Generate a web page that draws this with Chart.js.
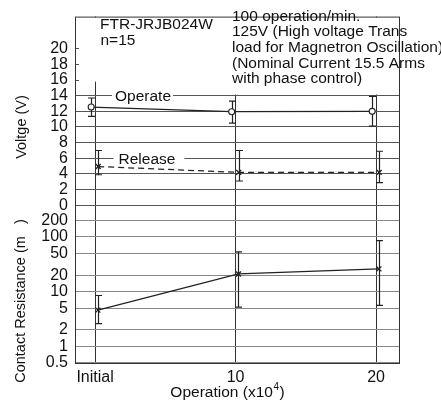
<!DOCTYPE html>
<html lang="en">
<head>
<meta charset="UTF-8">
<title>FTR-JRJB024W Life Test</title>
<script src="https://cdn.jsdelivr.net/npm/chart.js@4.4.3/dist/chart.umd.min.js"></script>
<style>
  html, body { margin: 0; padding: 0; background: #fff; }
</style>
</head>
<body>
<canvas id="lifeChart" width="441" height="409"></canvas>
<script>
// Operations (x10^4)
const operations = [0, 10, 20];
const xTickLabels = ['Initial', '10', '20'];

// Operate voltage (V)
const operateMean = [12.55, 11.95, 12.0];
const operateMax = [13.7, 13.3, 13.9];
const operateMin = [11.35, 10.5, 10.1];

// Release voltage (V)
const releaseMean = [4.95, 4.2, 4.2];
const releaseMax = [7.0, 7.0, 6.9];
const releaseMin = [3.9, 3.1, 2.9];

// Contact resistance (mOhm)
const resistMean = [4.6, 21, 26];
const resistMax = [8.5, 53, 85];
const resistMin = [2.6, 5.2, 5.6];

const voltTicks = [0, 2, 4, 6, 8, 10, 12, 14, 16, 18, 20];
const resistTicks = [0.5, 1, 2, 5, 10, 20, 50, 100, 200];

const headerLeft = ['FTR-JRJB024W', 'n=15'];
const headerRight = [
  '100 operation/min.',
  '125V (High voltage Trans',
  'load for Magnetron Oscillation)',
  '(Nominal Current 15.5 Arms',
  'with phase control)'
];

const FAMILY = '"Liberation Sans", Arial, Helvetica, sans-serif';
const INK = '#111';

// small sideways offsets so the markers of each series don't overlap
const shiftOperate = -0.28;
const shiftRelease = 0.22;
const shiftResist = 0.2;

function points(mean, shift) {
  return operations.map((x, i) => ({ x: x + shift, y: mean[i] }));
}

const frameAndBars = {
  id: 'frameAndBars',
  beforeDatasetsDraw(chart) {
    const { ctx, chartArea: a, scales } = chart;
    const yV = scales.yV;
    ctx.save();
    // blank panels behind the header notes
    ctx.fillStyle = '#fff';
    const leftBottom = yV.getPixelForValue(15.8);
    const rightBottom = yV.getPixelForValue(14.15);
    ctx.fillRect(a.left + 4, a.top + 1, 228 - a.left - 4, leftBottom - a.top - 1);
    ctx.fillRect(228, a.top + 1, a.right - 229, rightBottom - a.top - 1);

    // plot frame
    ctx.strokeStyle = '#333';
    ctx.lineWidth = 1;
    ctx.strokeRect(a.left + 0.5, a.top + 0.5, a.right - a.left - 1, a.bottom - a.top);

    // error bars
    ctx.strokeStyle = '#222';
    ctx.lineWidth = 1.2;
    chart.data.datasets.forEach(ds => {
      const ys = scales[ds.yAxisID];
      ds.data.forEach((pt, i) => {
        const px = Math.round(scales.x.getPixelForValue(pt.x)) + 0.5;
        const top = ys.getPixelForValue(ds.errMax[i]);
        const bot = ys.getPixelForValue(ds.errMin[i]);
        ctx.beginPath();
        ctx.moveTo(px, top); ctx.lineTo(px, bot);
        ctx.moveTo(px - 3.5, top); ctx.lineTo(px + 3.5, top);
        ctx.moveTo(px - 3.5, bot); ctx.lineTo(px + 3.5, bot);
        ctx.stroke();
      });
    });
    ctx.restore();
  },
  afterDraw(chart) {
    const { ctx, scales } = chart;
    const yV = scales.yV;
    ctx.save();
    ctx.fillStyle = INK;
    ctx.textBaseline = 'alphabetic';
    ctx.textAlign = 'left';
    ctx.font = '15.5px ' + FAMILY;

    // header notes
    ctx.fillText(headerLeft[0], 100, 28.5);
    ctx.fillText(headerLeft[1], 100.5, 45);
    const rightBase = [20.5, 36.3, 52, 67.5, 82.5];
    headerRight.forEach((t, i) => ctx.fillText(t, 232, rightBase[i]));

    // series labels sitting on the grid lines
    const labels = [
      { text: 'Operate', v: 14, x: 115, pad: [3, 2] },
      { text: 'Release', v: 6, x: 118.5, pad: [5, 9] }
    ];
    labels.forEach(l => {
      const y = yV.getPixelForValue(l.v);
      const w = ctx.measureText(l.text).width;
      ctx.fillStyle = '#fff';
      ctx.fillRect(l.x - l.pad[0], y - 7, w + l.pad[0] + l.pad[1], 14);
      ctx.fillStyle = INK;
      ctx.fillText(l.text, l.x, y + 5.2);
    });

    // x axis title with superscript
    const xTitle = 'Operation (x10';
    const base = 397;
    ctx.font = '15.5px ' + FAMILY;
    const w1 = ctx.measureText(xTitle).width;
    ctx.font = '10px ' + FAMILY;
    const w2 = ctx.measureText('4').width;
    ctx.font = '15.5px ' + FAMILY;
    const w3 = ctx.measureText(')').width;
    let x0 = 227 - (w1 + w2 + w3) / 2;
    ctx.fillText(xTitle, x0, base);
    ctx.font = '10px ' + FAMILY;
    ctx.fillText('4', x0 + w1 + 0.5, base - 7);
    ctx.font = '15.5px ' + FAMILY;
    ctx.fillText(')', x0 + w1 + w2 + 1, base);

    // rotated y titles
    ctx.font = '14.5px ' + FAMILY;
    ctx.textAlign = 'center';
    ctx.textBaseline = 'middle';
    [['Voltge (V)', 22, 127], ['Contact Resistance (m   )', 21, 301]].forEach(([t, x, y]) => {
      ctx.save();
      ctx.translate(x, y);
      ctx.rotate(-Math.PI / 2);
      ctx.fillText(t, 0, 0);
      ctx.restore();
    });
    ctx.restore();
  }
};

const tickFont = { family: FAMILY, size: 16 };

new Chart(document.getElementById('lifeChart'), {
  type: 'line',
  data: {
    datasets: [
      {
        label: 'Operate',
        data: points(operateMean, shiftOperate),
        errMax: operateMax,
        errMin: operateMin,
        yAxisID: 'yV',
        borderColor: '#222',
        borderWidth: 1.3,
        pointStyle: 'circle',
        pointRadius: 3,
        pointBorderWidth: 1.1,
        pointBackgroundColor: '#fff',
        pointBorderColor: '#222'
      },
      {
        label: 'Release',
        data: points(releaseMean, shiftRelease),
        errMax: releaseMax,
        errMin: releaseMin,
        yAxisID: 'yV',
        borderColor: '#222',
        borderWidth: 1.3,
        borderDash: [6, 4],
        pointStyle: 'crossRot',
        pointRadius: 3.5,
        pointBorderWidth: 1.3,
        pointBorderColor: '#222'
      },
      {
        label: 'Contact Resistance',
        data: points(resistMean, shiftResist),
        errMax: resistMax,
        errMin: resistMin,
        yAxisID: 'yR',
        borderColor: '#222',
        borderWidth: 1.3,
        pointStyle: 'crossRot',
        pointRadius: 3.5,
        pointBorderWidth: 1.3,
        pointBorderColor: '#222'
      }
    ]
  },
  options: {
    responsive: false,
    animation: false,
    events: [],
    layout: { padding: { top: 5, right: 41, bottom: 0, left: 0 } },
    plugins: { legend: { display: false }, tooltip: { enabled: false } },
    scales: {
      x: {
        type: 'linear',
        min: -1.43,
        max: 21.7,
        afterBuildTicks: s => { s.ticks = operations.map(v => ({ value: v })); },
        afterFit: s => { s.height = 46; },
        grid: { color: '#333', lineWidth: 1, drawTicks: false },
        border: { display: false },
        ticks: {
          callback: v => xTickLabels[operations.indexOf(v)],
          font: tickFont,
          color: INK,
          padding: 5,
          maxRotation: 0,
          autoSkip: false
        }
      },
      yR: {
        type: 'logarithmic',
        position: 'left',
        stack: 'left',
        stackWeight: 163,
        weight: 1,
        min: 0.5,
        max: 375,
        afterBuildTicks: s => { s.ticks = resistTicks.map(v => ({ value: v })); },
        afterFit: s => { s.width = 75; },
        grid: { color: '#888', lineWidth: 1, drawTicks: false },
        border: { display: false },
        ticks: { callback: v => String(v), font: tickFont, color: INK, padding: 7, autoSkip: false }
      },
      yV: {
        type: 'linear',
        position: 'left',
        stack: 'left',
        stackWeight: 195,
        weight: 2,
        min: 0,
        max: 24.1,
        afterBuildTicks: s => { s.ticks = voltTicks.map(v => ({ value: v })); },
        afterFit: s => { s.width = 75; },
        grid: { color: '#555', lineWidth: 1, drawTicks: false },
        border: { display: false },
        ticks: { callback: v => String(v), font: tickFont, color: INK, padding: 7, autoSkip: false }
      }
    }
  },
  plugins: [frameAndBars]
});
</script>
</body>
</html>
